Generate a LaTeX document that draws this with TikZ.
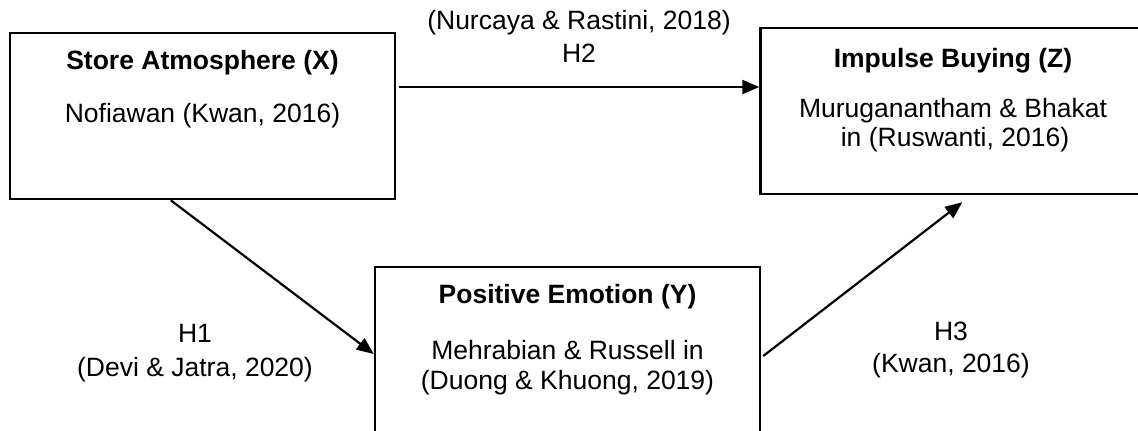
\documentclass[tikz,border=0pt]{standalone}
\usepackage{fontspec}
\setmainfont{Liberation Sans}
\usetikzlibrary{arrows.meta,calc}
\begin{document}
\begin{tikzpicture}[x=1pt,y=-1pt,
  box/.style={draw=black,line width=2.5pt,inner sep=0pt,minimum width=385pt,minimum height=166pt},
  txt/.style={anchor=base,inner sep=0pt,font=\fontsize{26.5pt}{31pt}\selectfont},
  ttl/.style={txt,font=\fontsize{26.5pt}{31pt}\selectfont\bfseries},
  arr/.style={line width=2.2pt,-{Triangle[length=17pt,width=14pt]}}]
\useasboundingbox (0,0) rectangle (1138,431);
\clip (0,0) rectangle (1138,431);
% boxes
\node[box] (X) at (202.5,116) {};
\node[box] (Z) at (953,111) {};
\node[box] (Y) at (567.5,350) {};
% box texts
\node[ttl] (Xt1) at (202.5,69) {Store Atmosphere (X)};
\node[txt] (Xt2) at (202.5,122) {Nofiawan (Kwan, 2016)};
\node[ttl] (Zt1) at (953,67) {Impulse Buying (Z)};
\node[txt] (Zt2) at (953,117) {Muruganantham \& Bhakat};
\node[txt] (Zt3) at (955,146) {in (Ruswanti, 2016)};
\node[ttl] (Yt1) at (567.5,303) {Positive Emotion (Y)};
\node[txt] (Yt2) at (567.5,359) {Mehrabian \& Russell in};
\node[txt] (Yt3) at (567.5,389) {(Duong \& Khuong, 2019)};
% connectors
\coordinate (h2s) at ($(X.east)+(3,-29)$);
\draw[arr] (h2s) -- (h2s -| Z.west);
\draw[arr] ($(X.south west)+(162,0)$) -- ($(Y.west)+(0,4)$);
\draw[arr] ($(Y.east)+(2,6)$) -- ($(Z.south west)+(203,7)$);
% labels
\node[txt] (l2a) at (579,29) {(Nurcaya \& Rastini, 2018)};
\node[txt] (l2b) at (579,62) {H2};
\node[txt] (l1a) at (195,342) {H1};
\node[txt] (l1b) at (195,376) {(Devi \& Jatra, 2020)};
\node[txt] (l3a) at (951,340) {H3};
\node[txt] (l3b) at (951,372) {(Kwan, 2016)};
\end{tikzpicture}
\end{document}
